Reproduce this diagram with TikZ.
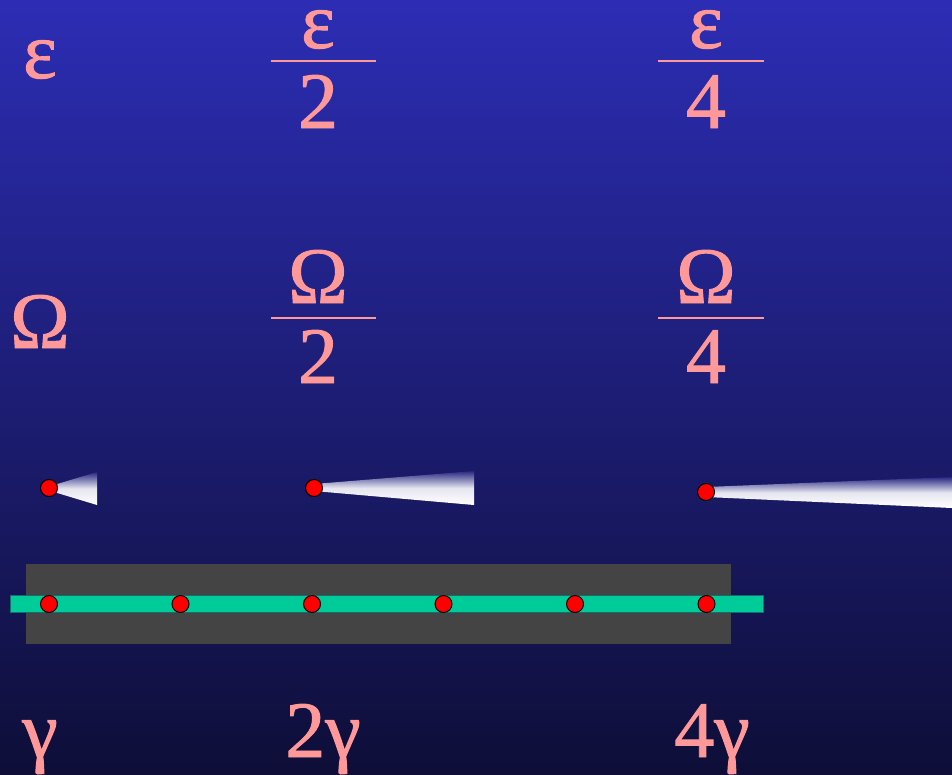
\documentclass[tikz,border=0pt]{standalone}
\usepackage{fontspec}
\setmainfont{Liberation Serif}
\newfontfamily\heavy[FakeBold=1.2]{Liberation Serif}
\definecolor{pinktxt}{RGB}{255,153,153}
\definecolor{bgtop}{RGB}{44,45,180}
\definecolor{bgbot}{RGB}{14,14,56}
\definecolor{slab}{RGB}{68,68,68}
\definecolor{rail}{RGB}{0,204,153}
\definecolor{railedge}{RGB}{20,110,110}
\definecolor{conetop}{RGB}{40,40,130}
\begin{document}
\begin{tikzpicture}[x=1pt,y=-1pt,
  lbl/.style={text=pinktxt,inner sep=0,anchor=base,font=\heavy\fontsize{80}{96}\selectfont},
  bar/.style={draw=pinktxt,line width=1.6pt},
  spot/.style={circle,fill=red,draw=black,line width=1pt,inner sep=0,minimum size=17pt},
  beam/.style={top color=conetop,bottom color=white,middle color=white!88!conetop}]
\useasboundingbox (0,0) rectangle (952,774);
\shade[top color=bgtop,bottom color=bgbot] (0,0) rectangle (952,774);
% epsilon row
\node[lbl] (epsA) at (40,78) {ε};
\node[lbl] (epsBn) at (318,48) {ε};
\draw[bar] (271,61) -- (376,61);
\node[lbl] (epsBd) at (318,128) {2};
\node[lbl] (epsCn) at (706,48) {ε};
\draw[bar] (658,61) -- (764,61);
\node[lbl] (epsCd) at (706,128) {4};
% omega row
\node[lbl] (omA) at (40,348) {Ω};
\node[lbl] (omBn) at (318,303) {Ω};
\draw[bar] (271,318) -- (376,318);
\node[lbl] (omBd) at (318,383) {2};
\node[lbl] (omCn) at (706,303) {Ω};
\draw[bar] (658,318) -- (764,318);
\node[lbl] (omCd) at (706,383) {4};
% beams
\shade[beam] (49,486.5) -- (97,472) -- (97,505) -- (49,490.5) -- cycle;
\node[spot] (srcA) at (49,488) {};
\shade[beam] (314,484) -- (474,471) -- (474,505) -- (314,491) -- cycle;
\node[spot] (srcB) at (314,488) {};
\shade[beam] (706,487) -- (952,477) -- (952,508) -- (706,497) -- cycle;
\node[spot] (srcC) at (706,492) {};
% slab and rail
\fill[slab] (26,564) rectangle (731,644);
\filldraw[fill=rail,draw=railedge,line width=0.6pt] (10,595.5) rectangle (763,612);
\foreach \i in {0,...,5}
  \node[spot] (p\i) at (49+131.5*\i,604) {};
% gamma row
\node[lbl] (gamA) at (40,757) {γ};
\node[lbl] (gamB) at (323,757) {2γ};
\node[lbl] (gamC) at (712,757) {4γ};
\end{tikzpicture}
\end{document}
